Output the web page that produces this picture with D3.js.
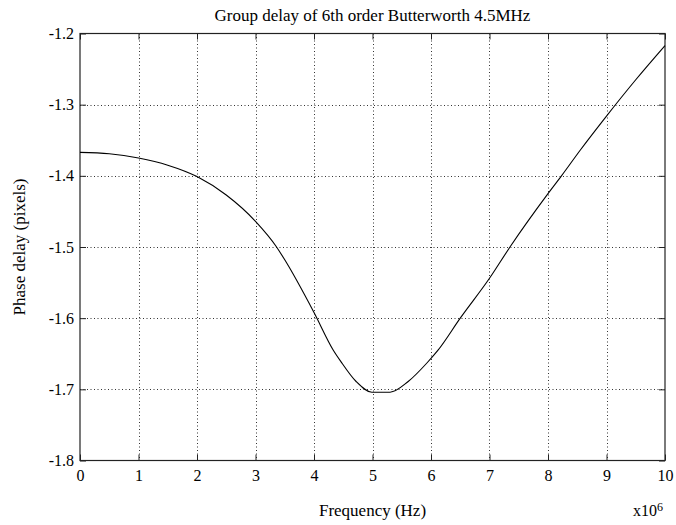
<!DOCTYPE html>
<html><head><meta charset="utf-8">
<script src="https://cdn.jsdelivr.net/npm/d3@7"></script>
<style>
body{margin:0;background:#fff;}
svg{display:block;font-family:"Liberation Serif","Times New Roman",serif;}
</style></head>
<body>
<svg id="chart" width="676" height="525"></svg>
<script>
const titleText = "Group delay of 6th order Butterworth 4.5MHz";
const xLabel = "Frequency (Hz)";
const yLabel = "Phase delay (pixels)";
const xTicks = [0,1,2,3,4,5,6,7,8,9,10];
const yTicks = [-1.8,-1.7,-1.6,-1.5,-1.4,-1.3,-1.2];
const freq = [0,0.5,1,1.5,2,2.5,3,3.36,3.5,4,4.33,4.46,4.72,4.99,5.30,5.61,5.93,6.12,6.5,7.0,7.35,8.0,8.23,8.55,9.0,9.5,10];
const delay = [-1.367,-1.369,-1.375,-1.385,-1.401,-1.427,-1.464,-1.500,-1.518,-1.592,-1.645,-1.661,-1.689,-1.704,-1.704,-1.689,-1.663,-1.645,-1.600,-1.544,-1.500,-1.425,-1.400,-1.364,-1.316,-1.265,-1.217];

const svg = d3.select("#chart");
const L=80, R=665, T=33.5, B=460.5;
const x = d3.scaleLinear().domain([0,10]).range([L,R]);
const y = d3.scaleLinear().domain([-1.8,-1.2]).range([B,T]);

// grid
const grid = svg.append("g").attr("stroke","#333").attr("stroke-width",1).attr("stroke-dasharray","1,2.5");
grid.selectAll(".gx").data(xTicks.slice(1,-1)).join("line")
  .attr("x1",d=>Math.round(x(d))+0.5).attr("x2",d=>Math.round(x(d))+0.5).attr("y1",T).attr("y2",B);
grid.selectAll(".gy").data(yTicks.slice(1,-1)).join("line")
  .attr("y1",d=>Math.round(y(d))+0.5).attr("y2",d=>Math.round(y(d))+0.5).attr("x1",L).attr("x2",R);

// axes
const gBottom = svg.append("g").attr("transform",`translate(0,${B})`)
  .call(d3.axisBottom(x).tickValues(xTicks).tickSize(-6).tickPadding(9).tickFormat(d3.format("d")));
const gTop = svg.append("g").attr("transform",`translate(0,${T})`)
  .call(d3.axisTop(x).tickValues(xTicks).tickSize(-6).tickFormat(""));
const gLeft = svg.append("g").attr("transform",`translate(${L},0)`)
  .call(d3.axisLeft(y).tickValues(yTicks).tickSize(-6).tickPadding(6).tickFormat(d=>d.toFixed(1)));
const gRight = svg.append("g").attr("transform",`translate(${R},0)`)
  .call(d3.axisRight(y).tickValues(yTicks).tickSize(-6).tickFormat(""));
[gBottom,gTop,gLeft,gRight].forEach(g=>{
  g.select(".domain").remove();
  g.selectAll(".tick line").attr("stroke","#222");
  g.selectAll("text").attr("font-family","Liberation Serif").attr("font-size",16).attr("fill","#000");
});
svg.append("rect").attr("x",L).attr("y",T).attr("width",R-L).attr("height",B-T)
  .attr("fill","none").attr("stroke","#222").attr("stroke-width",1.2);

// line
const pts = freq.map((f,i)=>[f,delay[i]]);
svg.append("path").datum(pts)
  .attr("fill","none").attr("stroke","#000").attr("stroke-width",1.1)
  .attr("d", d3.line().x(d=>x(d[0])).y(d=>y(d[1])).curve(d3.curveMonotoneX));

// labels
svg.append("text").attr("x",(L+R)/2).attr("y",20.5).attr("text-anchor","middle")
  .attr("font-size",17).text(titleText);
svg.append("text").attr("x",(L+R)/2).attr("y",516).attr("text-anchor","middle")
  .attr("font-size",17).text(xLabel);
svg.append("text").attr("transform",`translate(25,${(T+B)/2}) rotate(-90)`).attr("text-anchor","middle")
  .attr("font-size",17).text(yLabel);
const ex = svg.append("text").attr("x",663).attr("y",516).attr("text-anchor","end").attr("font-size",16);
ex.append("tspan").text("x10");
ex.append("tspan").attr("font-size",12).attr("dy",-5).text("6");
</script>
</body></html>
